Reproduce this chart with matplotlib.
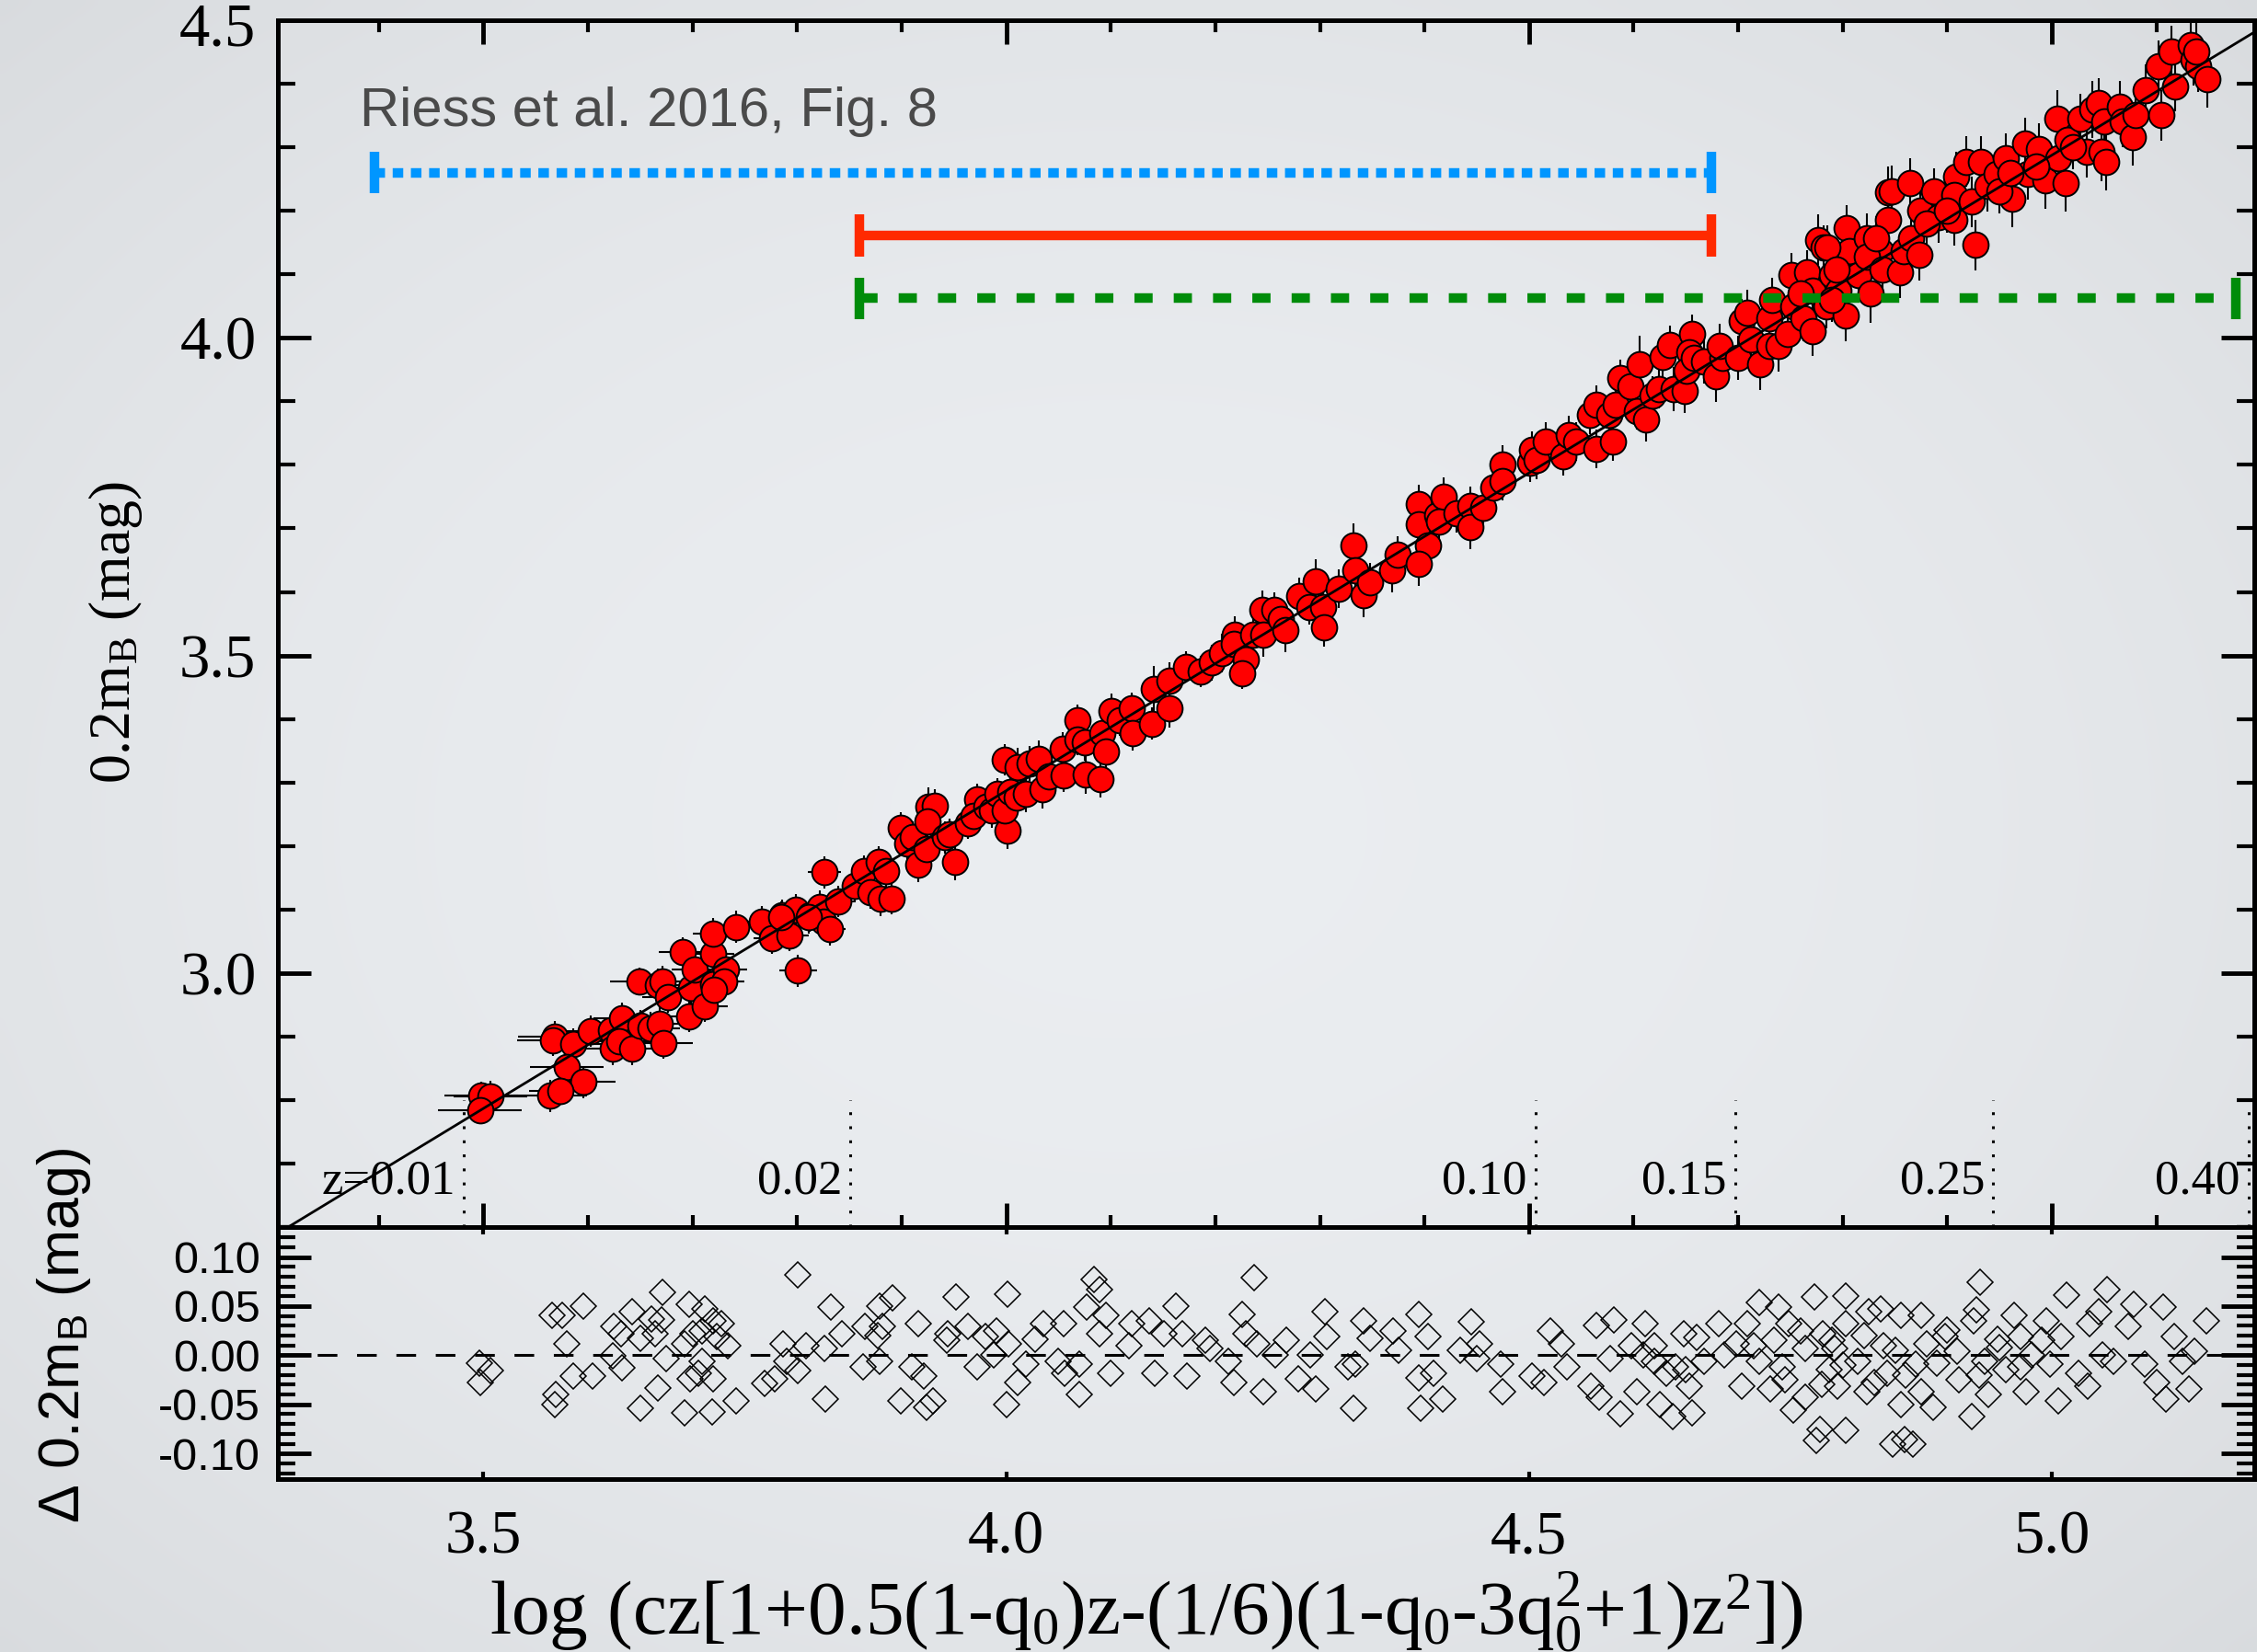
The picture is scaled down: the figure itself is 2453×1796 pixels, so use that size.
import numpy as np
import matplotlib
matplotlib.use("Agg")
import matplotlib.pyplot as plt
from matplotlib.ticker import MultipleLocator, FormatStrFormatter, FuncFormatter

plt.rcParams['font.family'] = ['Liberation Serif', 'DejaVu Serif']
plt.rcParams['mathtext.fontset'] = 'custom'
plt.rcParams['mathtext.rm'] = 'Liberation Serif'
plt.rcParams['mathtext.sf'] = 'Liberation Sans'
plt.rcParams['mathtext.default'] = 'regular'
plt.rcParams['axes.unicode_minus'] = False

# ---- data ----
# Hubble diagram points: (log cz[...], 0.2 m_B, xerr, yerr)
low_z_points = [
    (3.498, 2.808, 0.035, 0.022), (3.507, 2.806, 0.035, 0.025), (3.497, 2.785, 0.040, 0.022),
    (3.568, 2.900, 0.035, 0.025), (3.567, 2.895, 0.035, 0.025), (3.586, 2.889, 0.030, 0.025),
    (3.580, 2.853, 0.035, 0.022), (3.596, 2.829, 0.030, 0.025), (3.564, 2.807, 0.035, 0.025),
    (3.574, 2.815, 0.030, 0.022), (3.603, 2.909, 0.030, 0.025), (3.622, 2.910, 0.028, 0.025),
    (3.633, 2.929, 0.028, 0.025), (3.624, 2.881, 0.028, 0.025), (3.630, 2.893, 0.028, 0.022),
    (3.642, 2.881, 0.028, 0.025), (3.650, 2.917, 0.025, 0.025), (3.660, 2.914, 0.028, 0.025),
    (3.669, 2.921, 0.025, 0.025), (3.672, 2.890, 0.028, 0.025), (3.649, 2.987, 0.028, 0.022),
    (3.667, 2.982, 0.025, 0.025), (3.671, 2.987, 0.025, 0.025), (3.677, 2.963, 0.025, 0.025),
    (3.691, 3.034, 0.023, 0.022), (3.699, 2.977, 0.023, 0.025), (3.697, 2.932, 0.022, 0.025),
    (3.702, 3.006, 0.022, 0.025), (3.712, 2.948, 0.022, 0.025), (3.720, 3.030, 0.020, 0.025),
    (3.720, 2.983, 0.020, 0.025), (3.732, 3.006, 0.020, 0.022), (3.730, 2.987, 0.020, 0.025),
    (3.721, 2.974, 0.020, 0.025), (3.720, 3.062, 0.020, 0.025), (3.742, 3.073, 0.020, 0.025),
    (3.766, 3.081, 0.018, 0.025), (3.776, 3.055, 0.018, 0.025), (3.786, 3.091, 0.018, 0.025),
    (3.793, 3.060, 0.018, 0.025), (3.799, 3.100, 0.018, 0.025), (3.801, 3.004, 0.018, 0.025),
    (3.812, 3.091, 0.016, 0.025), (3.822, 3.105, 0.016, 0.025), (3.825, 3.081, 0.016, 0.025),
    (3.826, 3.159, 0.016, 0.025), (3.785, 3.088, 0.016, 0.025), (3.811, 3.088, 0.015, 0.025),
    (3.831, 3.069, 0.015, 0.025), (3.839, 3.113, 0.015, 0.025), (3.855, 3.137, 0.012, 0.025),
    (3.864, 3.161, 0.012, 0.025), (3.870, 3.127, 0.012, 0.025), (3.878, 3.175, 0.012, 0.025),
    (3.880, 3.118, 0.012, 0.028), (3.890, 3.118, 0.012, 0.025), (3.885, 3.161, 0.012, 0.025),
    (3.899, 3.229, 0.010, 0.025), (3.905, 3.204, 0.010, 0.025), (3.911, 3.214, 0.010, 0.025),
    (3.916, 3.171, 0.010, 0.028), (3.924, 3.195, 0.010, 0.025), (3.926, 3.262, 0.010, 0.030),
    (3.932, 3.264, 0.010, 0.025), (3.925, 3.239, 0.010, 0.025), (3.941, 3.214, 0.008, 0.025),
    (3.946, 3.218, 0.008, 0.025), (3.951, 3.175, 0.008, 0.028), (3.963, 3.236, 0.008, 0.025),
    (3.972, 3.274, 0.008, 0.025), (3.969, 3.247, 0.008, 0.025), (3.981, 3.262, 0.008, 0.025),
    (3.986, 3.257, 0.008, 0.028), (3.992, 3.282, 0.008, 0.025),
]

mid_z_points = [
    (4.001, 3.224, 0.006, 0.028), (3.999, 3.257, 0.006, 0.025), (4.004, 3.286, 0.006, 0.025),
    (4.010, 3.277, 0.006, 0.025), (4.019, 3.282, 0.006, 0.028), (3.999, 3.336, 0.006, 0.025),
    (4.011, 3.325, 0.006, 0.030), (4.022, 3.330, 0.006, 0.028), (4.031, 3.338, 0.006, 0.028),
    (4.035, 3.289, 0.005, 0.030), (4.041, 3.310, 0.005, 0.025), (4.055, 3.311, 0.005, 0.025),
    (4.054, 3.354, 0.005, 0.025), (4.068, 3.398, 0.005, 0.025), (4.068, 3.368, 0.005, 0.025),
    (4.075, 3.363, 0.005, 0.028), (4.076, 3.313, 0.005, 0.030), (4.090, 3.306, 0.005, 0.030),
    (4.092, 3.378, 0.005, 0.025), (4.095, 3.349, 0.005, 0.028), (4.101, 3.412, 0.005, 0.028),
    (4.109, 3.398, 0.005, 0.025), (4.120, 3.417, 0.004, 0.025), (4.121, 3.378, 0.004, 0.028),
    (4.139, 3.393, 0.004, 0.025), (4.141, 3.448, 0.004, 0.035), (4.156, 3.460, 0.004, 0.030),
    (4.156, 3.417, 0.004, 0.030), (4.172, 3.482, 0.004, 0.025), (4.186, 3.475, 0.004, 0.025),
    (4.197, 3.489, 0.004, 0.028), (4.206, 3.504, 0.004, 0.030), (4.219, 3.533, 0.004, 0.028),
    (4.218, 3.518, 0.004, 0.030), (4.229, 3.494, 0.004, 0.028), (4.226, 3.472, 0.004, 0.025),
    (4.236, 3.533, 0.004, 0.025), (4.245, 3.572, 0.004, 0.030), (4.246, 3.533, 0.004, 0.035),
    (4.256, 3.572, 0.004, 0.028), (4.263, 3.557, 0.004, 0.028), (4.267, 3.540, 0.004, 0.035),
    (4.280, 3.593, 0.004, 0.030), (4.290, 3.576, 0.004, 0.028), (4.296, 3.617, 0.004, 0.035),
    (4.303, 3.576, 0.004, 0.030), (4.304, 3.544, 0.004, 0.030), (4.318, 3.605, 0.004, 0.030),
    (4.332, 3.673, 0.004, 0.035), (4.334, 3.634, 0.004, 0.030), (4.342, 3.595, 0.004, 0.035),
    (4.348, 3.615, 0.004, 0.030), (4.369, 3.634, 0.004, 0.035), (4.374, 3.658, 0.004, 0.030),
    (4.395, 3.738, 0.004, 0.030), (4.395, 3.706, 0.004, 0.030), (4.403, 3.673, 0.004, 0.030),
    (4.395, 3.644, 0.004, 0.035), (4.412, 3.721, 0.004, 0.030), (4.418, 3.750, 0.004, 0.030),
    (4.414, 3.711, 0.004, 0.030), (4.431, 3.724, 0.003, 0.030), (4.444, 3.736, 0.003, 0.030),
    (4.444, 3.702, 0.003, 0.035), (4.456, 3.733, 0.003, 0.030), (4.466, 3.765, 0.003, 0.030),
    (4.475, 3.801, 0.003, 0.030), (4.475, 3.774, 0.003, 0.030), (4.501, 3.803, 0.003, 0.030),
    (4.503, 3.823, 0.003, 0.030), (4.507, 3.808, 0.003, 0.030), (4.516, 3.837, 0.003, 0.030),
    (4.533, 3.813, 0.003, 0.030), (4.538, 3.847, 0.003, 0.030), (4.545, 3.837, 0.003, 0.030),
    (4.558, 3.878, 0.003, 0.030), (4.564, 3.895, 0.003, 0.030), (4.564, 3.825, 0.003, 0.030),
    (4.580, 3.837, 0.003, 0.030), (4.577, 3.878, 0.003, 0.030), (4.583, 3.895, 0.003, 0.030),
    (4.587, 3.936, 0.003, 0.030), (4.597, 3.924, 0.003, 0.035), (4.606, 3.958, 0.003, 0.045),
    (4.603, 3.885, 0.003, 0.030), (4.612, 3.871, 0.003, 0.035), (4.618, 3.909, 0.003, 0.030),
    (4.624, 3.919, 0.003, 0.030), (4.628, 3.970, 0.003, 0.035), (4.635, 3.989, 0.003, 0.030),
    (4.638, 3.919, 0.003, 0.035), (4.649, 3.917, 0.003, 0.035),
]

high_z_points = [
    (4.656, 4.006, 0.002, 0.030), (4.653, 3.977, 0.002, 0.035), (4.651, 3.948, 0.002, 0.030),
    (4.658, 3.968, 0.002, 0.030), (4.667, 3.963, 0.002, 0.035), (4.679, 3.939, 0.002, 0.040),
    (4.685, 3.968, 0.002, 0.035), (4.682, 3.987, 0.002, 0.035), (4.700, 3.968, 0.002, 0.035),
    (4.703, 4.026, 0.002, 0.035), (4.709, 4.040, 0.002, 0.035), (4.712, 3.997, 0.002, 0.035),
    (4.721, 3.958, 0.002, 0.040), (4.730, 3.987, 0.002, 0.035), (4.730, 4.030, 0.002, 0.035),
    (4.732, 4.059, 0.002, 0.035), (4.739, 3.987, 0.002, 0.040), (4.747, 4.006, 0.002, 0.035),
    (4.751, 4.098, 0.002, 0.035), (4.753, 4.050, 0.002, 0.035), (4.762, 4.030, 0.002, 0.035),
    (4.766, 4.103, 0.002, 0.035), (4.771, 4.011, 0.002, 0.040), (4.771, 4.074, 0.002, 0.035),
    (4.776, 4.154, 0.002, 0.040), (4.782, 4.142, 0.002, 0.035), (4.784, 4.050, 0.002, 0.035),
    (4.790, 4.098, 0.002, 0.035), (4.796, 4.074, 0.002, 0.035), (4.804, 4.173, 0.002, 0.035),
    (4.803, 4.035, 0.002, 0.040), (4.806, 4.137, 0.002, 0.035), (4.815, 4.098, 0.002, 0.035),
    (4.823, 4.156, 0.002, 0.040), (4.827, 4.069, 0.002, 0.045), (4.836, 4.137, 0.002, 0.035),
    (4.843, 4.185, 0.002, 0.040), (4.843, 4.229, 0.002, 0.040), (4.785, 4.142, 0.002, 0.035),
    (4.794, 4.108, 0.002, 0.035), (4.823, 4.127, 0.002, 0.035), (4.832, 4.156, 0.002, 0.035),
    (4.838, 4.108, 0.002, 0.035), (4.847, 4.231, 0.002, 0.040), (4.855, 4.103, 0.002, 0.040),
    (4.864, 4.243, 0.002, 0.040), (4.858, 4.137, 0.002, 0.035), (4.865, 4.156, 0.002, 0.035),
    (4.874, 4.200, 0.002, 0.040), (4.873, 4.130, 0.002, 0.040), (4.887, 4.231, 0.002, 0.035),
    (4.892, 4.190, 0.002, 0.040), (4.907, 4.185, 0.002, 0.040), (4.908, 4.253, 0.002, 0.040),
    (4.907, 4.224, 0.002, 0.035), (4.918, 4.277, 0.002, 0.040), (4.923, 4.214, 0.002, 0.040),
    (4.927, 4.146, 0.002, 0.040), (4.932, 4.277, 0.002, 0.040), (4.938, 4.239, 0.002, 0.040),
    (4.947, 4.258, 0.002, 0.035), (4.956, 4.282, 0.002, 0.040), (4.962, 4.219, 0.002, 0.045),
    (4.974, 4.306, 0.002, 0.040), (4.977, 4.258, 0.002, 0.040), (4.988, 4.297, 0.002, 0.040),
    (4.994, 4.248, 0.002, 0.045), (5.005, 4.344, 0.002, 0.045), (5.006, 4.282, 0.002, 0.040),
    (5.013, 4.243, 0.002, 0.045), (5.015, 4.311, 0.002, 0.040), (5.027, 4.344, 0.002, 0.040),
    (5.033, 4.292, 0.002, 0.040), (5.039, 4.359, 0.002, 0.045), (5.045, 4.369, 0.002, 0.040),
    (5.047, 4.292, 0.002, 0.045), (5.052, 4.277, 0.002, 0.045), (5.050, 4.340, 0.002, 0.040),
    (5.065, 4.364, 0.002, 0.040), (5.068, 4.340, 0.002, 0.040), (5.077, 4.316, 0.002, 0.045),
    (5.080, 4.350, 0.002, 0.040), (5.090, 4.390, 0.002, 0.040), (5.102, 4.427, 0.002, 0.040),
    (5.105, 4.350, 0.002, 0.040), (5.114, 4.451, 0.002, 0.040), (5.118, 4.396, 0.002, 0.040),
    (5.133, 4.461, 0.002, 0.040), (5.135, 4.437, 0.002, 0.040), (5.140, 4.427, 0.002, 0.040),
    (5.138, 4.451, 0.002, 0.045), (5.149, 4.407, 0.002, 0.045),
    (4.760, 4.070, 0.002, 0.035), (4.790, 4.060, 0.002, 0.035), (4.880, 4.180, 0.002, 0.035),
    (4.900, 4.200, 0.002, 0.035), (4.950, 4.230, 0.002, 0.035), (4.960, 4.260, 0.002, 0.035),
    (4.985, 4.270, 0.002, 0.035), (5.020, 4.300, 0.002, 0.035),
]

# residuals in the lower panel: (log cz[...], delta 0.2 m_B)
resid_low = [
    (3.496, -0.008), (3.507, -0.016), (3.497, -0.028), (3.566, 0.041), (3.575, 0.041),
    (3.596, 0.050), (3.580, 0.012), (3.586, -0.021), (3.604, -0.021), (3.569, -0.040),
    (3.568, -0.050), (3.625, 0.029), (3.632, 0.022), (3.642, 0.044), (3.650, 0.017),
    (3.661, 0.037), (3.671, 0.064), (3.670, 0.036), (3.664, 0.022), (3.633, -0.013),
    (3.624, -0.001), (3.675, -0.003), (3.667, -0.033), (3.650, -0.054), (3.692, 0.012),
    (3.697, 0.052), (3.712, 0.047), (3.720, 0.035), (3.728, 0.032), (3.709, 0.025),
    (3.723, 0.019), (3.734, 0.010), (3.700, 0.022), (3.709, -0.006), (3.706, -0.018),
    (3.698, -0.024), (3.720, -0.024), (3.692, -0.059), (3.719, -0.058), (3.742, -0.046),
    (3.769, -0.029), (3.779, -0.024), (3.787, 0.012), (3.790, -0.006), (3.801, -0.016),
    (3.801, 0.082), (3.809, 0.010), (3.826, 0.007), (3.832, 0.049), (3.827, -0.045),
    (3.843, 0.022), (3.865, 0.029), (3.863, -0.012), (3.877, 0.020), (3.879, 0.050),
    (3.891, 0.058), (3.879, -0.006), (3.882, 0.029), (3.899, -0.046), (3.910, -0.012),
    (3.916, 0.032), (3.921, -0.021), (3.924, -0.053), (3.930, -0.046), (3.944, 0.022),
    (3.943, 0.015), (3.952, 0.059), (3.963, 0.029), (3.972, -0.012), (3.980, 0.019),
    (3.991, 0.025), (3.988, 0.000), (4.001, 0.062), (4.000, -0.050), (4.002, 0.012),
    (4.011, -0.028), (4.019, -0.009), (4.028, 0.016), (4.036, 0.032), (4.055, 0.032),
    (4.050, -0.006), (4.056, -0.018), (4.070, -0.040), (4.070, -0.009), (4.077, 0.049),
    (4.084, 0.077), (4.089, 0.067), (4.095, 0.041), (4.089, 0.022), (4.100, -0.018),
    (4.117, 0.010), (4.120, 0.032), (4.137, 0.035), (4.142, -0.018), (4.151, 0.022),
    (4.162, 0.050), (4.168, 0.022), (4.173, -0.021), (4.190, 0.015), (4.195, 0.007),
    (4.212, -0.006), (4.226, 0.042), (4.229, 0.022), (4.218, -0.028), (4.237, 0.079),
    (4.240, 0.012), (4.246, -0.037), (4.257, 0.000), (4.268, 0.015), (4.279, -0.024),
    (4.291, 0.000), (4.296, -0.034), (4.305, 0.044), (4.307, 0.019), (4.327, -0.012),
]

resid_high = [
    (4.334, -0.009), (4.332, -0.054), (4.342, 0.035), (4.348, 0.017), (4.370, 0.025),
    (4.375, 0.005), (4.395, 0.042), (4.403, 0.019), (4.395, -0.023), (4.396, -0.054),
    (4.409, -0.018), (4.417, -0.045), (4.434, 0.005), (4.445, 0.034), (4.453, 0.012),
    (4.450, -0.003), (4.473, -0.009), (4.475, -0.037), (4.503, -0.021), (4.514, -0.028),
    (4.520, 0.025), (4.531, 0.012), (4.536, -0.012), (4.559, -0.031), (4.564, 0.030),
    (4.567, -0.043), (4.581, 0.036), (4.578, -0.003), (4.587, -0.060), (4.598, 0.010),
    (4.603, -0.037), (4.609, 0.000), (4.611, 0.032), (4.620, -0.006), (4.625, -0.050),
    (4.631, -0.018), (4.637, -0.062), (4.648, 0.022), (4.650, -0.015), (4.656, -0.059),
    (4.653, -0.031), (4.667, -0.006), (4.681, 0.032), (4.687, 0.000), (4.698, 0.012),
    (4.703, -0.031), (4.709, 0.032), (4.720, 0.054), (4.720, -0.006), (4.731, -0.034),
    (4.734, 0.015), (4.739, 0.049), (4.742, -0.012), (4.748, 0.032), (4.753, -0.056),
    (4.764, -0.043), (4.764, 0.007), (4.773, 0.059), (4.778, -0.075), (4.775, -0.087),
    (4.781, 0.022), (4.787, -0.015), (4.792, 0.007), (4.795, -0.031), (4.803, 0.060),
    (4.803, -0.076), (4.803, 0.032), (4.814, -0.006), (4.823, -0.037), (4.825, 0.044),
    (4.836, 0.047), (4.839, 0.010), (4.842, -0.018), (4.848, -0.090), (4.856, 0.041),
    (4.856, -0.050), (4.859, -0.086), (4.867, -0.090), (4.870, -0.009), (4.875, 0.041),
    (4.875, -0.037), (4.886, -0.053), (4.898, 0.019), (4.909, 0.004), (4.911, -0.025),
    (4.923, -0.062), (4.925, 0.035), (4.928, 0.046), (4.931, 0.074), (4.936, -0.006),
    (4.939, -0.040), (4.948, 0.016), (4.956, -0.015), (4.964, 0.041), (4.970, 0.019),
    (4.975, -0.037), (4.981, 0.000), (4.995, 0.035), (4.998, -0.009), (5.006, -0.046),
    (5.009, 0.019), (5.014, 0.061), (5.025, -0.018), (5.034, -0.031), (5.036, 0.032),
    (5.045, 0.044), (5.053, 0.067), (5.048, 0.000), (5.059, -0.006), (5.073, 0.029),
    (5.078, 0.052), (5.089, -0.009), (5.100, -0.028), (5.106, 0.049), (5.109, -0.045),
    (5.117, 0.019), (5.125, -0.006), (5.131, -0.034), (5.136, 0.004), (5.148, 0.035),
    (4.620, 0.010), (4.640, -0.012), (4.660, 0.018), (4.715, 0.010), (4.745, -0.025),
    (4.760, 0.025), (4.780, -0.030), (4.790, 0.015), (4.800, -0.010), (4.820, 0.020),
    (4.830, -0.028), (4.850, 0.005), (4.860, -0.020), (4.880, 0.012), (4.890, -0.008),
    (4.900, 0.026), (4.930, -0.020), (4.950, 0.008), (4.970, -0.012), (4.990, 0.015),
]

# fitted line 0.2 m_B = log cz[...] - a_B
fit_slope = 1.0
fit_intercept = -0.71273

# redshift markers
z_labels = ['z=0.01', '0.02', '0.10', '0.15', '0.25', '0.40']
z_xpos = [3.481, 3.851, 4.506, 4.697, 4.944, 5.188]

# horizontal range bars
range_left = [3.396, 3.860, 3.860]
range_right = [4.674, 4.674, 5.176]
range_y = [4.260, 4.161, 4.062]
range_colors = ['#0096ff', '#ff2a00', '#008c0a']
range_styles = [(0, (1.1, 0.8)), '-', (0, (1.9, 2.2))]

# ---- figure ----
fig = plt.figure(figsize=(24.53, 17.96), dpi=100)
fig.patch.set_facecolor('#e4e7ea')

# soft vignette background
bg = fig.add_axes([0, 0, 1, 1], zorder=-10)
gy, gx = np.mgrid[-1:1:180j, -1:1:245j]
r2 = gx ** 2 + gy ** 2
v = 0.925 - 0.035 * r2
img = np.dstack([v - 0.005, v + 0.006, v + 0.018])
bg.imshow(np.clip(img, 0, 1), aspect='auto', extent=[0, 1, 0, 1], interpolation='bicubic')
bg.axis('off')

ax = fig.add_axes([0.12311, 0.25696, 0.87567, 0.73096])
ax2 = fig.add_axes([0.12311, 0.10468, 0.87567, 0.15228])
for a in (ax, ax2):
    a.set_facecolor('none')
    for s in a.spines.values():
        s.set_linewidth(3.6)

xlim = (3.3035, 5.1935)

# top panel
pts = np.array(low_z_points + mid_z_points + high_z_points)
ax.errorbar(pts[:, 0], pts[:, 1], xerr=pts[:, 2], yerr=pts[:, 3], fmt='none',
            ecolor='black', elinewidth=1.5, capsize=0, zorder=2)
ax.plot(pts[:, 0], pts[:, 1], 'o', ms=20, mfc='#ff0000', mec='black', mew=1.4, zorder=3)

xx = np.array(xlim)
ax.plot(xx, fit_slope * xx + fit_intercept, color='black', lw=2.0, zorder=4)

ax.vlines(z_xpos, 2.60, 2.801, colors='black', linestyles=[(0, (1, 4))], lw=2.2)
for lbl, zx in zip(z_labels, z_xpos):
    ax.text(zx - 0.008, 2.672, lbl, ha='right', va='center', fontsize=38)

for x0, x1, y, c, ls in zip(range_left, range_right, range_y, range_colors, range_styles):
    ax.plot([x0, x1], [y, y], color=c, lw=7.5, linestyle=ls, solid_capstyle='butt',
            dash_capstyle='butt', zorder=5)
    ax.vlines([x0, x1], y - 0.033, y + 0.033, colors=c, lw=7.5, zorder=5)

ax.text(3.382, 4.356, 'Riess et al. 2016, Fig. 8', fontsize=43, color='#4a4a4a',
        family='Liberation Sans', ha='left', va='center')

ax.set_xlim(*xlim)
ax.set_ylim(2.60, 4.50)
ax.xaxis.set_major_locator(MultipleLocator(0.5))
ax.xaxis.set_minor_locator(MultipleLocator(0.1))
ax.yaxis.set_major_locator(MultipleLocator(0.5))
ax.yaxis.set_minor_locator(MultipleLocator(0.1))
# the top label (4.5) sits below the spine in the original, drawn separately
ax.yaxis.set_major_formatter(FuncFormatter(lambda v, p: '' if v > 4.45 else f'{v:.1f}'))
ax.text(-0.0112, 4.528, '4.5', transform=ax.get_yaxis_transform(), ha='right', va='top',
        fontsize=48, clip_on=False)
ax.tick_params(axis='x', which='major', direction='in', length=19, width=3.5,
               top=True, bottom=True, labelbottom=False)
ax.tick_params(axis='x', which='minor', direction='in', length=9.5, width=3,
               top=True, bottom=True)
ax.tick_params(axis='y', which='major', direction='in', length=26, width=3.5,
               left=True, right=True, labelsize=48, pad=17)
ax.tick_params(axis='y', which='minor', direction='in', length=14, width=3,
               left=True, right=True)

# bottom panel
res = np.array(resid_low + resid_high)
ax2.axhline(0.0, color='black', lw=2.2, linestyle=(0, (7, 7)))
ax2.plot(res[:, 0], res[:, 1], 'D', ms=14.5, mfc='none', mec='black', mew=1.1)
ax2.set_xlim(*xlim)
ax2.set_ylim(-0.126, 0.130)
ax2.xaxis.set_major_locator(MultipleLocator(0.5))
ax2.xaxis.set_major_formatter(FormatStrFormatter('%.1f'))
ax2.yaxis.set_major_locator(MultipleLocator(0.05))
ax2.yaxis.set_minor_locator(MultipleLocator(0.01))
ax2.yaxis.set_major_formatter(FormatStrFormatter('%.2f'))
ax2.tick_params(axis='x', which='major', direction='in', length=6, width=3,
               top=True, bottom=True, labelsize=48, pad=24)
ax2.tick_params(axis='x', which='minor', length=0)
ax2.tick_params(axis='y', which='major', direction='in', length=26, width=3.5,
               left=True, right=True, labelsize=35, pad=14,
               labelfontfamily='Liberation Sans')
ax2.tick_params(axis='y', which='minor', direction='in', length=14, width=3,
               left=True, right=True)

# axis titles
fig.text(0.051, 0.617, r'0.2m$_\mathregular{B}$ (mag)', rotation=90,
         ha='center', va='center', fontsize=46)
fig.text(0.0285, 0.1915, r'$\Delta$ 0.2m$_\mathregular{B}$ (mag)', rotation=90,
         ha='center', va='center', fontsize=45, family='Liberation Sans')
fig.text(0.508, 0.0245,
         r'log (cz[1+0.5(1-q$_0$)z-(1/6)(1-q$_0$-3q$_0^2$+1)z$^2$])',
         ha='center', va='center', fontsize=60)

fig.savefig('out.png', dpi=100, facecolor=fig.get_facecolor())
